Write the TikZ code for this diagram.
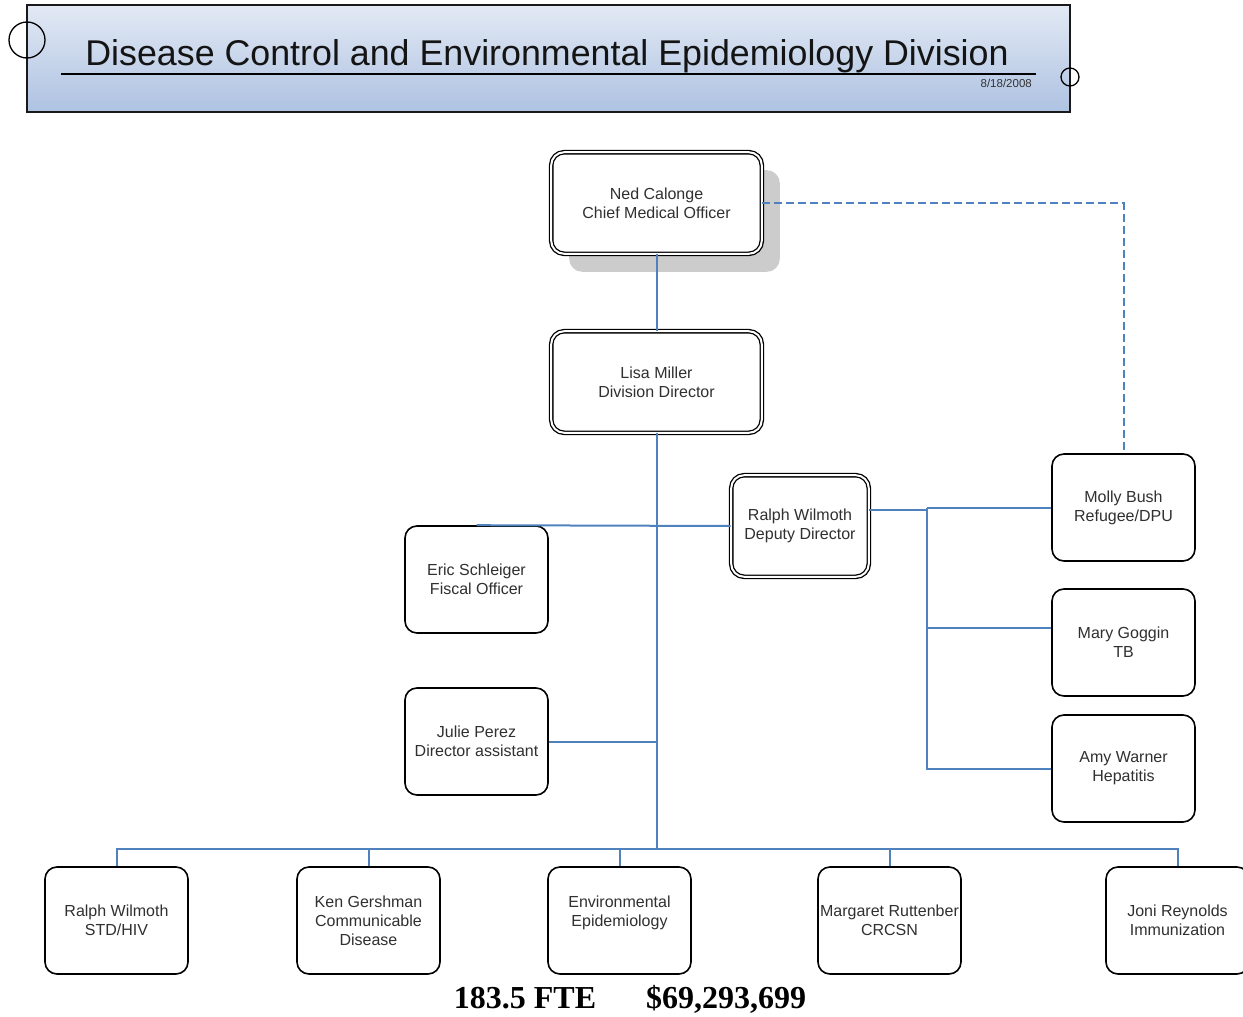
\documentclass[tikz,border=0pt]{standalone}
\usepackage{fontspec}
\setmainfont{Liberation Sans}
\newfontfamily\figfont{Liberation Serif}
\usetikzlibrary{calc,shadows}
\definecolor{linkblue}{HTML}{4F81BD}
\definecolor{boxtext}{HTML}{303030}
\definecolor{bannertop}{HTML}{E2E9F4}
\definecolor{bannerbot}{HTML}{AEC2E2}
\definecolor{shadowgray}{HTML}{CCCCCC}

\begin{document}
\begin{tikzpicture}[x=1pt,y=-1pt,
  person/.style={draw=black, line width=1.6pt, rounded corners=12pt, fill=white,
    minimum width=143pt, minimum height=107pt, align=center, text=boxtext,
    font=\fontsize{16}{19}\selectfont, inner sep=1pt},
  lead/.style={person, double=white, double distance=2pt, line width=1.3pt,
    rounded corners=13pt},
  link/.style={draw=linkblue, line width=2pt},
  banner/.style={draw=black!90, line width=1.6pt, top color=bannertop,
    bottom color=bannerbot, minimum width=1043pt, minimum height=107pt, inner sep=0pt},
  pin/.style={circle, draw=black, line width=1.3pt, inner sep=0pt},
  total/.style={anchor=base, font=\figfont\bfseries\fontsize{32}{36}\selectfont}
]
\useasboundingbox (0,0) rectangle (1243,1017);

% title banner
\node[banner] (banner) at (548.5,58.5) {};
\node[anchor=base, font=\fontsize{35.8}{40}\selectfont, text=black!92] (title) at (547,65)
  {Disease Control and Environmental Epidemiology Division};
\draw[line width=1.6pt] (61,74) coordinate (ruleL) -- (1036,74) coordinate (ruleR);
\node[anchor=base east, font=\fontsize{11.5}{13}\selectfont, text=black!80, inner sep=0pt]
  (date) at (1032,87) {8/18/2008};
\node[pin, minimum size=36pt] (pinL) at (27,40) {};
\node[pin, minimum size=18pt] (pinR) at (1070,77) {};

% leadership
\node[lead, minimum width=210.6pt, minimum height=101.6pt,
  general shadow={fill=shadowgray, shadow xshift=18pt, shadow yshift=-18pt}]
  (ned) at (656.5,203) {Ned Calonge\\Chief Medical Officer};
\node[lead, minimum width=210.6pt, minimum height=101.6pt]
  (lisa) at (656.5,382) {Lisa Miller\\Division Director};
\node[lead, minimum width=137.6pt, minimum height=101.6pt]
  (deputy) at (800,526) {Ralph Wilmoth\\Deputy Director};

% staff
\node[person] (eric) at (476.5,579.5) {Eric Schleiger\\Fiscal Officer};
\node[person] (julie) at (476.5,741.5) {Julie Perez\\Director assistant};

% deputy's units
\node[person] (molly) at (1123.5,507.5) {Molly Bush\\Refugee/DPU};
\node[person] (mary) at (1123.5,642.5) {Mary Goggin\\TB};
\node[person] (amy) at (1123.5,768.5) {Amy Warner\\Hepatitis};

% program units
\node[person] (stdhiv) at (116.5,920.5) {Ralph Wilmoth\\STD/HIV};
\node[person] (commdis) at (368.5,920.5) {Ken Gershman\\Communicable\\Disease};
\node[person] (envepi) at (619.5,920.5) {Environmental\\Epidemiology\\\mbox{}};
\node[person] (crcsn) at (889.5,920.5) {Margaret Ruttenber\\CRCSN};
\node[person] (immun) at (1177.5,920.5) {Joni Reynolds\\Immunization};

% reporting lines
\coordinate (hub) at (656.5,849);
\coordinate (split) at (927,510);
\coordinate (maryin) at ([yshift=15pt]mary.west);
\draw[link] (ned.south) -- (lisa.north);
\draw[link] (lisa.south) -- (hub);
\draw[link] (stdhiv.north) |- (hub) -| (immun.north);
\draw[link] (commdis.north) -- (commdis.north |- hub);
\draw[link] (envepi.north) -- (envepi.north |- hub);
\draw[link] (crcsn.north) -- (crcsn.north |- hub);
\draw[link] (eric.north) -- (deputy.west);
\draw[link] (julie.east) -- (julie.east -| hub);
\draw[link] ([yshift=16pt]deputy.east) -- (split);
\draw[link] (split |- molly.west) -- (molly.west);
\draw[link] (split |- molly.west) -- (split |- amy.west) -- (amy.west);
\draw[link] (split |- maryin) -- (maryin);
\draw[link, dash pattern=on 8pt off 4pt] (ned.east) -| (molly.north);

% totals
\node[total] (fte) at (525,1008) {183.5 FTE};
\node[total] (budget) at (726,1008) {\$69,293,699};
\end{tikzpicture}
\end{document}
